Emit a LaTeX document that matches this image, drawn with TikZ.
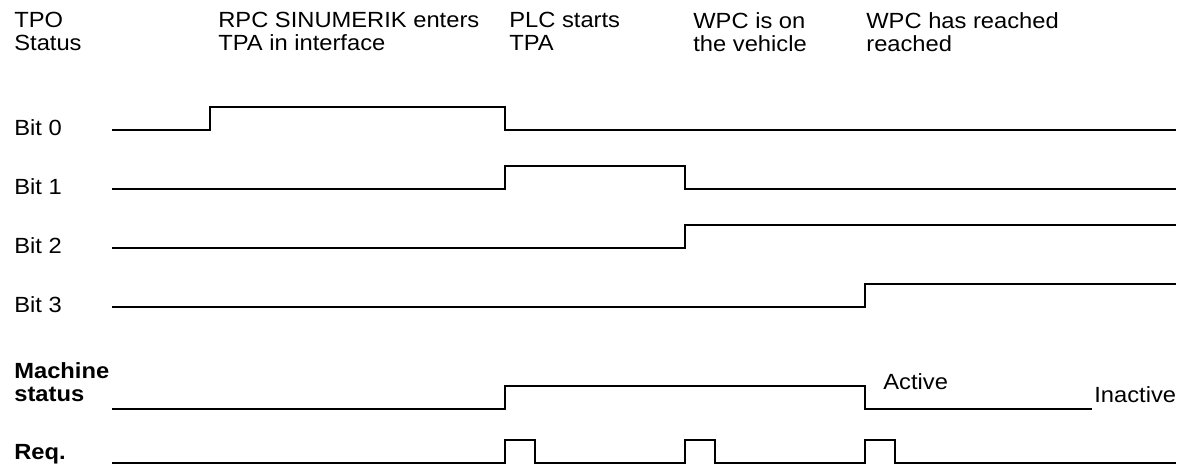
\documentclass[tikz,border=0pt]{standalone}
\usepackage{fontspec}
\setmainfont{Liberation Sans}[FakeStretch=1.08]
\usetikzlibrary{positioning}

\begin{document}
\begin{tikzpicture}[
  x=0.02cm, y=-0.02cm,
  every node/.style={font=\fontsize{12.5}{13.2}\selectfont, inner sep=0pt},
  signal/.style={line width=1.1pt, line join=miter},
  rowlabel/.style={anchor=base west},
  boldlabel/.style={rowlabel, font=\fontsize{12.5}{13.2}\selectfont\bfseries},
  eventlabel/.style={anchor=north west, align=left},
]

%% ── Frame (1 unit = 1 px of the sheet) ───────────────────────────────────────
\useasboundingbox (0,0) rectangle (1178,467);

\def\hi{23}   % step height of a signal

%% ── Header ───────────────────────────────────────────────────────────────────
\node[eventlabel] (hdrTpo) at (14,12)  {TPO\\Status};
\node[eventlabel] (evRpc)  at (218,12) {RPC SINUMERIK enters\\TPA in interface};
\node[eventlabel] (evPlc)  at (509,12) {PLC starts\\TPA};
\node[eventlabel] (evWpc)  at (693,12) {WPC is on\\the vehicle};
\node[eventlabel] (evDone) at (866,12) {WPC has reached\\reached};

%% ── Row labels ───────────────────────────────────────────────────────────────
\node[rowlabel]  (lblBit0) at (14,135) {Bit 0};
\node[rowlabel]  (lblBit1) at (14,194) {Bit 1};
\node[rowlabel]  (lblBit2) at (14,253) {Bit 2};
\node[rowlabel]  (lblBit3) at (14,312) {Bit 3};
\node[boldlabel] (lblMach) at (14,378) {Machine};
\node[boldlabel] (lblStat) at (14,401) {status};
\node[boldlabel] (lblReq)  at (14,459) {Req.};

%% ── Bit 0: set by RPC, cleared when PLC starts ───────────────────────────────
\draw[signal] (112,130) -- (210,130) -- (210,130-\hi) -- (505,130-\hi)
  -- (505,130) -- (1176,130);

%% ── Bit 1: PLC starts until WPC on vehicle ───────────────────────────────────
\draw[signal] (112,189) -- (505,189) -- (505,189-\hi) -- (685,189-\hi)
  -- (685,189) -- (1176,189);

%% ── Bit 2 ────────────────────────────────────────────────────────────────────
\draw[signal] (112,248) -- (685,248) -- (685,248-\hi) -- (1176,248-\hi);

%% ── Bit 3 ────────────────────────────────────────────────────────────────────
\draw[signal] (112,307) -- (865,307) -- (865,307-\hi) -- (1176,307-\hi);

%% ── Machine status ───────────────────────────────────────────────────────────
\draw[signal] (112,409) -- (505,409) -- (505,409-\hi) -- (865,409-\hi)
  -- (865,409) -- (1092,409);
\node[rowlabel] (stActive)   at (883,389) {Active};
\node[rowlabel] (stInactive) at (1094,402) {Inactive};

%% ── Req.: one short pulse per event ──────────────────────────────────────────
\draw[signal] (112,463)
  -- (505,463) -- (505,463-\hi) -- (535,463-\hi) -- (535,463)
  -- (685,463) -- (685,463-\hi) -- (715,463-\hi) -- (715,463)
  -- (865,463) -- (865,463-\hi) -- (895,463-\hi) -- (895,463)
  -- (1176,463);

\end{tikzpicture}
\end{document}
